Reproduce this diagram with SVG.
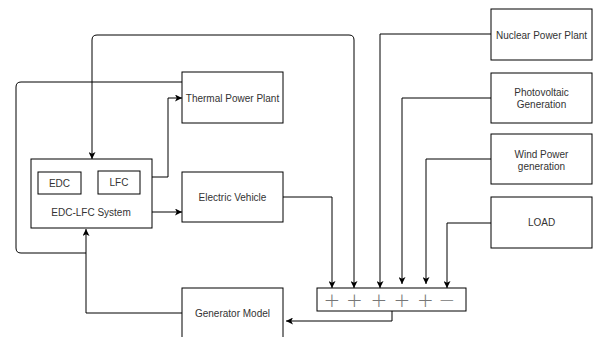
<svg xmlns="http://www.w3.org/2000/svg" width="593" height="337" viewBox="0 0 593 337">
<style>
.box{fill:#fff;stroke:#000;stroke-width:1}
.t{font-family:"Liberation Sans",Arial,sans-serif;font-size:10px;fill:#333;text-anchor:middle}
.s{font-family:"DejaVu Sans",sans-serif;font-size:20px;font-weight:200;fill:#777;text-anchor:middle}
.e{fill:none;stroke:#000;stroke-width:1}
</style>
<defs>
<marker id="a" viewBox="0 0 10 10" refX="10" refY="5" markerWidth="7" markerHeight="7" markerUnits="userSpaceOnUse" orient="auto-start-reverse">
<path d="M0 0 L10 5 L0 10 L2.5 5 Z" fill="#000"/>
</marker>
</defs>
<g id="connectors">
<path class="e" d="M354 288 V40 Q354 35 349 35 H97 Q92 35 92 40 V159" marker-start="url(#a)" marker-end="url(#a)"/>
<path class="e" d="M182 82 H21 Q16 82 16 87 V248 Q16 253 21 253 H86"/>
<path class="e" d="M182 313 H86 V229" marker-end="url(#a)"/>
<path class="e" d="M152 177 H168 V98 H182" marker-end="url(#a)"/>
<path class="e" d="M152 212 H182" marker-end="url(#a)"/>
<path class="e" d="M283 197 H332 V288" marker-end="url(#a)"/>
<path class="e" d="M491 34 H380 V288" marker-end="url(#a)"/>
<path class="e" d="M491 98 H402 V284" marker-end="url(#a)"/>
<path class="e" d="M491 159 H426 V284" marker-end="url(#a)"/>
<path class="e" d="M491 223 H447 V288" marker-end="url(#a)"/>
<path class="e" d="M392 311 V321 H286" marker-end="url(#a)"/>
</g>
<g id="thermal"><rect class="box" x="182" y="72" width="101" height="51"/><text class="t" x="232.5" y="102">Thermal Power Plant</text></g>
<g id="edclfc"><rect class="box" x="31" y="159" width="121" height="69"/><text class="t" x="91" y="216">EDC-LFC System</text></g>
<g id="edc"><rect class="box" x="38" y="172" width="43" height="22"/><text class="t" x="59.5" y="187">EDC</text></g>
<g id="lfc"><rect class="box" x="98" y="171" width="42" height="23"/><text class="t" x="119" y="186">LFC</text></g>
<g id="ev"><rect class="box" x="182" y="172" width="101" height="50"/><text class="t" x="232.5" y="201">Electric Vehicle</text></g>
<g id="gen"><rect class="box" x="182" y="288" width="101" height="60"/><text class="t" x="232.5" y="317">Generator Model</text></g>
<g id="nuclear"><rect class="box" x="491" y="9" width="101" height="51"/><text class="t" x="541.5" y="38.5">Nuclear Power Plant</text></g>
<g id="pv"><rect class="box" x="491" y="73" width="101" height="50"/><text class="t" x="541.5" y="96">Photovoltaic</text><text class="t" x="541.5" y="107.5">Generation</text></g>
<g id="wind"><rect class="box" x="491" y="134" width="101" height="50"/><text class="t" x="541.5" y="158">Wind Power</text><text class="t" x="541.5" y="169.5">generation</text></g>
<g id="load"><rect class="box" x="491" y="197" width="101" height="51"/><text class="t" x="541.5" y="226">LOAD</text></g>
<g id="sum"><rect class="box" x="317" y="288" width="149" height="23"/>
<text class="s" x="332" y="307">+</text><text class="s" x="354.5" y="307">+</text><text class="s" x="379" y="307">+</text><text class="s" x="402" y="307">+</text><text class="s" x="425.5" y="307">+</text><text class="s" x="447" y="307">−</text></g>
</svg>
